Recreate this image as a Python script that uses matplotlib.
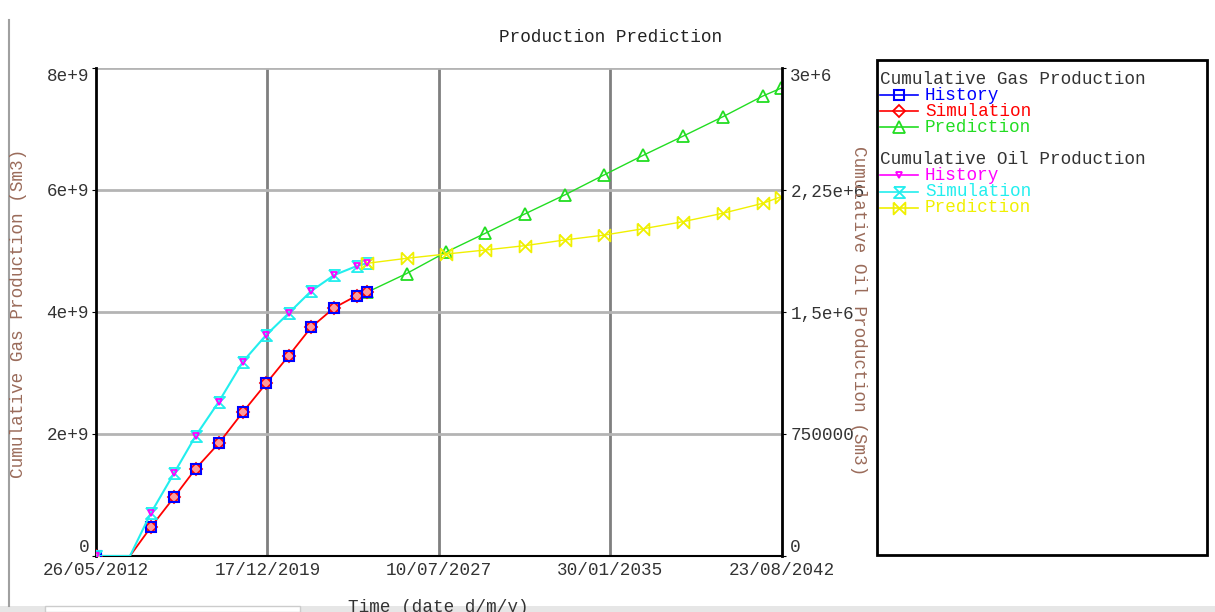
import numpy as np
import matplotlib
matplotlib.use("Agg")
import matplotlib.pyplot as plt
from matplotlib.patches import Rectangle
from matplotlib.ticker import FixedLocator, FixedFormatter
import matplotlib.dates as mdates

plt.rcParams['font.family'] = ['Liberation Mono', 'DejaVu Sans Mono']

# yearly reports, history period
hist_dates = np.array(['2012-05-26', '2014-10-24', '2015-11-02', '2016-10-16', '2017-10-26',
                       '2018-11-17', '2019-11-27', '2020-11-21', '2021-11-20', '2022-11-26',
                       '2023-11-26', '2024-04-30'], dtype='datetime64[D]')
gas_hist = [0, 0.47e9, 0.96e9, 1.43e9, 1.85e9, 2.36e9, 2.83e9, 3.28e9, 3.75e9, 4.07e9, 4.27e9, 4.32e9]
oil_hist = [0, 262000, 508000, 738000, 949000, 1195000, 1359000, 1492000, 1629000, 1727000,
            1783000, 1799000]

# simulation covers the same period plus the shut-in start
sim_dates = np.array(['2012-05-26', '2013-11-24', '2014-10-24', '2015-11-02', '2016-10-16',
                      '2017-10-26', '2018-11-17', '2019-11-27', '2020-11-21', '2021-11-20',
                      '2022-11-26', '2023-11-26', '2024-04-30'], dtype='datetime64[D]')
gas_sim = [0, 0, 0.47e9, 0.96e9, 1.43e9, 1.85e9, 2.36e9, 2.83e9, 3.28e9, 3.75e9, 4.07e9, 4.27e9, 4.32e9]
oil_sim = [0, 0, 262000, 508000, 738000, 949000, 1195000, 1359000, 1492000, 1629000, 1727000,
           1783000, 1799000]

# forecast
pred_dates = np.array(['2024-04-30', '2026-02-02', '2027-10-28', '2029-07-23', '2031-04-27',
                       '2033-01-25', '2034-10-24', '2036-07-12', '2038-04-08', '2040-01-12',
                       '2041-10-17', '2042-08-10'], dtype='datetime64[D]')
gas_pred = [4.32e9, 4.63e9, 4.98e9, 5.29e9, 5.61e9, 5.92e9, 6.25e9, 6.57e9, 6.88e9, 7.20e9,
            7.54e9, 7.67e9]
oil_pred = [1799000, 1830000, 1856000, 1881000, 1908000, 1943000, 1973000, 2012000, 2055000,
            2107000, 2168000, 2209000]

x_ticks = np.array(['2012-05-26', '2019-12-17', '2027-07-10', '2035-01-30', '2042-08-23'],
                   dtype='datetime64[D]')
gas_ticks = [0, 2e9, 4e9, 6e9, 8e9]
gas_tick_labels = ['0', '2e+9', '4e+9', '6e+9', '8e+9']
oil_ticks = [0, 750000, 1500000, 2250000, 3000000]
oil_tick_labels = ['0', '750000', '1,5e+6', '2,25e+6', '3e+6']

hourglass = [(-1, 1), (1, 1), (-1, -1), (1, -1), (-1, 1)]
bowtie = [(-1, 1), (-1, -1), (1, 1), (1, -1), (-1, 1)]

st_gas_hist = dict(color='#0000ff', lw=1.5, marker='s', ms=6.5, mfc='none', mew=1.5)
st_gas_sim = dict(color='#ff0000', lw=1.3, marker='D', ms=5.8, mfc='#ff9a9a', mew=1.3)
st_gas_pred = dict(color='#22dd22', lw=1.0, marker='^', ms=8, mfc='none', mew=1.3)
st_oil_hist = dict(color='#ff00ff', lw=1.3, marker='v', ms=5, mfc='none', mew=1.3)
st_oil_sim = dict(color='#22eeee', lw=1.5, marker=hourglass, ms=8, mfc='none', mew=1.3)
st_oil_pred = dict(color='#f0f000', lw=1.0, marker=bowtie, ms=8.5, mfc='none', mew=1.3)

# the shut-in point of the simulation carries no marker
sim_marks = [i for i in range(len(sim_dates)) if i != 1]

FS = 12.7
W, H = 1215, 612
fig = plt.figure(figsize=(W / 100, H / 100), dpi=100)
fig.patch.set_facecolor('white')

ax = fig.add_axes([96 / W, 1 - 556 / H, (782 - 96) / W, (556 - 68) / H])
ax2 = ax.twinx()

# history is shown by its markers only, the simulation line runs through them
ax.plot(hist_dates, gas_hist, zorder=5, **{**st_gas_hist, 'ls': 'none'})
ax.plot(sim_dates, gas_sim, zorder=4, markevery=sim_marks, **st_gas_sim)
ax.plot(pred_dates, gas_pred, zorder=3, **st_gas_pred)

ax2.plot(sim_dates, oil_sim, zorder=2, markevery=sim_marks, **st_oil_sim)
ax2.plot(hist_dates, oil_hist, zorder=3, **{**st_oil_hist, 'ls': 'none'})
ax2.plot(pred_dates, oil_pred, zorder=2, **st_oil_pred)

ax.set_xlim(x_ticks[0], x_ticks[-1])
ax.set_ylim(0, 8e9)
ax2.set_ylim(0, 3e6)

ax.xaxis.set_major_locator(FixedLocator(mdates.date2num(x_ticks)))
ax.xaxis.set_major_formatter(mdates.DateFormatter('%d/%m/%Y'))
ax.yaxis.set_major_locator(FixedLocator(gas_ticks))
ax.yaxis.set_major_formatter(FixedFormatter(gas_tick_labels))
ax2.yaxis.set_major_locator(FixedLocator(oil_ticks))
ax2.yaxis.set_major_formatter(FixedFormatter(oil_tick_labels))

# grid: darker vertical, lighter horizontal
for t in mdates.date2num(x_ticks)[1:-1]:
    ax.axvline(t, color='#7f7f7f', lw=2, zorder=1)
for g in gas_ticks[1:]:
    ax.axhline(g, color='#b4b4b4', lw=2, zorder=1)

for a in (ax, ax2):
    a.spines['top'].set_visible(False)
    for s in a.spines.values():
        s.set_color('black')
ax.spines['left'].set_linewidth(2)
ax.spines['bottom'].set_linewidth(1.5)
ax2.spines['right'].set_linewidth(2)
ax2.spines['left'].set_visible(False)
ax2.spines['bottom'].set_visible(False)

ax.tick_params(axis='x', length=0, pad=4, labelsize=FS, labelcolor='#333333')
ax.tick_params(axis='y', length=3, pad=2, labelsize=FS, labelcolor='#333333')
ax2.tick_params(axis='y', length=3, pad=3, labelsize=FS, labelcolor='#333333')

# end labels are kept inside the axis range
fig.canvas.draw()
for a in (ax, ax2):
    labels = a.get_yticklabels()
    labels[0].set_verticalalignment('bottom')
    labels[-1].set_verticalalignment('top')

lbl_color = '#9a6b5a'
fig.text(611 / W, 1 - 37 / H, 'Production Prediction', ha='center', va='center',
         fontsize=FS, color='#222222')
fig.text(19 / W, 1 - 313 / H, 'Cumulative Gas Production (Sm3)', rotation=90,
         ha='center', va='center', fontsize=FS, color=lbl_color)
fig.text(858 / W, 1 - 311 / H, 'Cumulative Oil Production (Sm3)', rotation=-90,
         ha='center', va='center', fontsize=FS, color=lbl_color)
fig.text(438 / W, 1 - 599 / H, 'Time (date d/m/y)', ha='center', va='top',
         fontsize=FS, color='#333333')

# overlay in pixel units for the legend box and page frame
ov = fig.add_axes([0, 0, 1, 1], facecolor='none')
ov.set_xlim(0, W)
ov.set_ylim(H, 0)
ov.axis('off')

ov.add_patch(Rectangle((877, 60), 330, 495, fill=False, ec='black', lw=2))
legend_rows = [
    ('Cumulative Gas Production', None, 79),
    ('History', st_gas_hist, 95),
    ('Simulation', st_gas_sim, 111),
    ('Prediction', st_gas_pred, 127),
    ('Cumulative Oil Production', None, 159),
    ('History', st_oil_hist, 175),
    ('Simulation', st_oil_sim, 192),
    ('Prediction', st_oil_pred, 208),
]
for label, st, y in legend_rows:
    if st is None:
        ov.text(880, y, label, ha='left', va='center', fontsize=FS, color='#333333')
        continue
    ov.plot([880, 918], [y, y], color=st['color'], lw=1.2)
    ov.plot([899], [y], linestyle='none', marker=st['marker'], ms=st['ms'],
            mfc='none', mec=st['color'], mew=st['mew'])
    ov.text(925, y, label, ha='left', va='center', fontsize=FS, color=st['color'])

# page frame around the chart
ov.plot([9, 9], [20, 606], color='#a0a0a0', lw=1.5)
ov.add_patch(Rectangle((0, 606), W, 6, color='#e6e6e6', lw=0))
ov.add_patch(Rectangle((45, 606), 255, 6, fc='white', ec='#cccccc', lw=1))

fig.savefig('out.png', dpi=100)
